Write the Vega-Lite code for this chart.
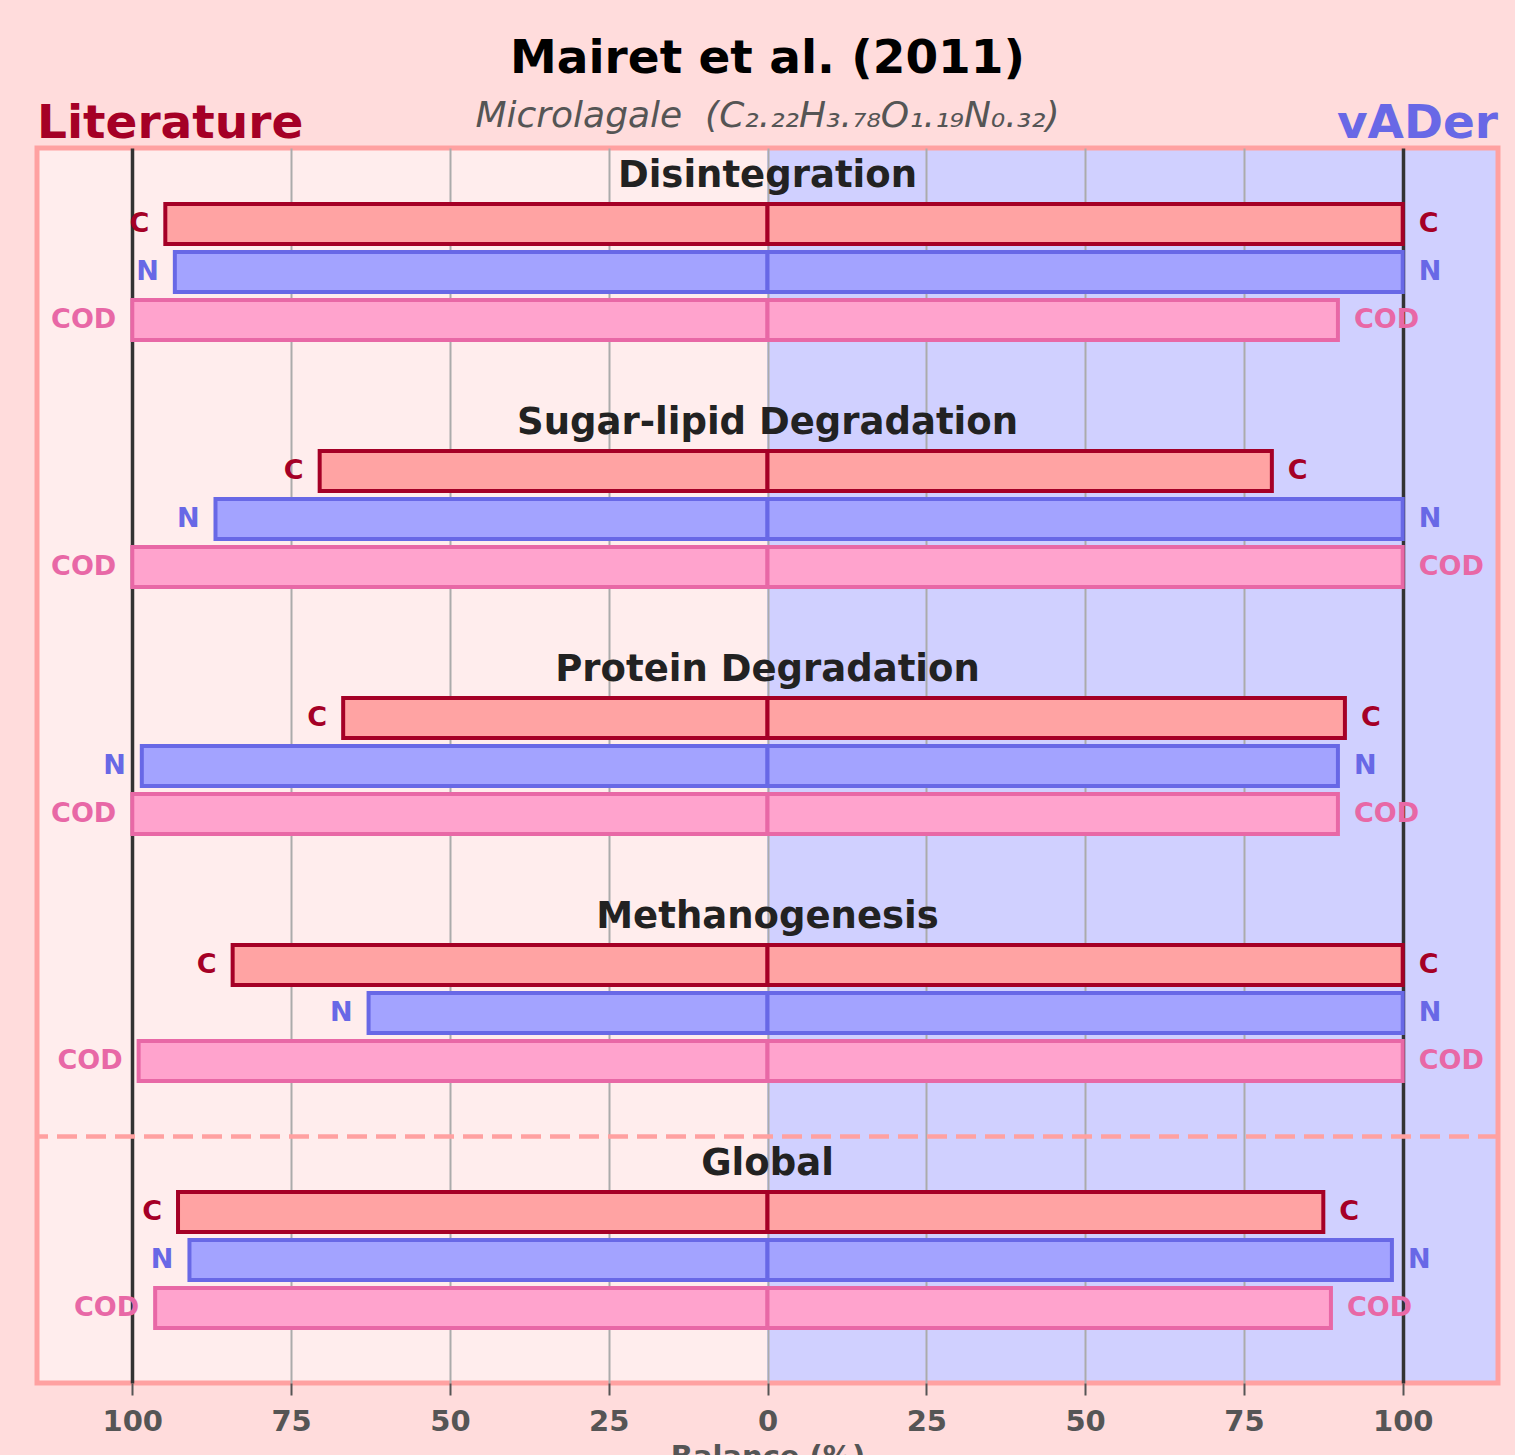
{
  "$schema": "https://vega.github.io/schema/vega-lite/v6.json",
  "width": 1461,
  "height": 1235,
  "autosize": {"type": "none"},
  "padding": {"left": 37, "top": 148, "right": 17, "bottom": 72},
  "background": "#FFDCDC",
  "title": {
    "text": "Mairet et al. (2011)",
    "subtitle": "Microlagale\u00a0\u00a0(C₂.₂₂H₃.₇₈O₁.₁₉N₀.₃₂)",
    "anchor": "middle",
    "font": "DejaVu Sans",
    "fontSize": 47,
    "fontWeight": "bold",
    "color": "#000000",
    "subtitleFont": "DejaVu Sans",
    "subtitleFontSize": 36,
    "subtitleFontStyle": "italic",
    "subtitleColor": "#555555",
    "subtitlePadding": 16,
    "offset": -35
  },
  "datasets": {
    "bars": [
      {"group": "Disintegration", "metric": "C", "side": "Literature", "balance": -94.8},
      {"group": "Disintegration", "metric": "N", "side": "Literature", "balance": -93.3},
      {"group": "Disintegration", "metric": "COD", "side": "Literature", "balance": -100},
      {"group": "Disintegration", "metric": "C", "side": "vADer", "balance": 100},
      {"group": "Disintegration", "metric": "N", "side": "vADer", "balance": 100},
      {"group": "Disintegration", "metric": "COD", "side": "vADer", "balance": 89.8},
      {"group": "Sugar-lipid Degradation", "metric": "C", "side": "Literature", "balance": -70.5},
      {"group": "Sugar-lipid Degradation", "metric": "N", "side": "Literature", "balance": -86.9},
      {"group": "Sugar-lipid Degradation", "metric": "COD", "side": "Literature", "balance": -100},
      {"group": "Sugar-lipid Degradation", "metric": "C", "side": "vADer", "balance": 79.4},
      {"group": "Sugar-lipid Degradation", "metric": "N", "side": "vADer", "balance": 100},
      {"group": "Sugar-lipid Degradation", "metric": "COD", "side": "vADer", "balance": 100},
      {"group": "Protein Degradation", "metric": "C", "side": "Literature", "balance": -66.8},
      {"group": "Protein Degradation", "metric": "N", "side": "Literature", "balance": -98.5},
      {"group": "Protein Degradation", "metric": "COD", "side": "Literature", "balance": -100},
      {"group": "Protein Degradation", "metric": "C", "side": "vADer", "balance": 90.9},
      {"group": "Protein Degradation", "metric": "N", "side": "vADer", "balance": 89.8},
      {"group": "Protein Degradation", "metric": "COD", "side": "vADer", "balance": 89.8},
      {"group": "Methanogenesis", "metric": "C", "side": "Literature", "balance": -84.2},
      {"group": "Methanogenesis", "metric": "N", "side": "Literature", "balance": -62.8},
      {"group": "Methanogenesis", "metric": "COD", "side": "Literature", "balance": -99.0},
      {"group": "Methanogenesis", "metric": "C", "side": "vADer", "balance": 100},
      {"group": "Methanogenesis", "metric": "N", "side": "vADer", "balance": 100},
      {"group": "Methanogenesis", "metric": "COD", "side": "vADer", "balance": 100},
      {"group": "Global", "metric": "C", "side": "Literature", "balance": -92.8},
      {"group": "Global", "metric": "N", "side": "Literature", "balance": -91.0},
      {"group": "Global", "metric": "COD", "side": "Literature", "balance": -96.4},
      {"group": "Global", "metric": "C", "side": "vADer", "balance": 87.5},
      {"group": "Global", "metric": "N", "side": "vADer", "balance": 98.3},
      {"group": "Global", "metric": "COD", "side": "vADer", "balance": 88.7}
    ],
    "groups": [
      {"group": "Disintegration"},
      {"group": "Sugar-lipid Degradation"},
      {"group": "Protein Degradation"},
      {"group": "Methanogenesis"},
      {"group": "Global"}
    ]
  },
  "layer": [
    {
      "data": {"name": "bars"},
      "mark": {"type": "bar", "orient": "horizontal", "strokeWidth": 4},
      "encoding": {
        "y": {
          "field": "group",
          "type": "nominal",
          "sort": null,
          "axis": null,
          "scale": {
            "domain": ["Disintegration", "Sugar-lipid Degradation", "Protein Degradation", "Methanogenesis", "Global"],
            "paddingInner": 0.2227,
            "paddingOuter": 0.1113,
            "align": 0.0727
          }
        },
        "yOffset": {
          "field": "metric",
          "type": "nominal",
          "sort": null,
          "scale": {"domain": ["title", "C", "N", "COD"], "paddingInner": 0.16667, "paddingOuter": 0.08333}
        },
        "x": {
          "field": "balance",
          "type": "quantitative",
          "title": "Balance (%)",
          "scale": {"domain": [-115, 115], "nice": false, "zero": false},
          "axis": {
            "values": [-100, -75, -50, -25, 0, 25, 50, 75, 100],
            "labelExpr": "abs(datum.value)",
            "domain": false,
            "grid": true,
            "gridColor": {"condition": {"test": "abs(datum.value) == 100", "value": "#333333"}, "value": "#ababab"},
            "gridWidth": {"condition": {"test": "abs(datum.value) == 100", "value": 3.5}, "value": 2},
            "gridOpacity": 1,
            "tickColor": "#555555",
            "tickWidth": 2,
            "tickSize": 12,
            "labelFont": "DejaVu Sans",
            "labelFontSize": 29,
            "labelFontWeight": "bold",
            "labelColor": "#555555",
            "labelPadding": 12,
            "titleFont": "DejaVu Sans",
            "titleFontSize": 29,
            "titleFontWeight": "bold",
            "titleColor": "#555555",
            "titlePadding": 6
          }
        },
        "x2": {"datum": 0},
        "fill": {
          "field": "metric",
          "type": "nominal",
          "scale": {"domain": ["C", "N", "COD"], "range": ["#FFA3A3", "#A3A3FF", "#FFA3CD"]},
          "legend": null
        },
        "stroke": {
          "field": "metric",
          "type": "nominal",
          "scale": {"domain": ["C", "N", "COD"], "range": ["#A50026", "#6868E6", "#E868A6"]},
          "legend": null
        }
      }
    },
    {
      "data": {"name": "bars"},
      "transform": [{"filter": "datum.side == 'Literature'"}],
      "mark": {"type": "text", "align": "right", "baseline": "middle", "dx": -16, "font": "DejaVu Sans", "fontSize": 27, "fontWeight": "bold"},
      "encoding": {
        "y": {"field": "group", "type": "nominal", "sort": null},
        "yOffset": {"field": "metric", "type": "nominal", "sort": null},
        "x": {"field": "balance", "type": "quantitative"},
        "text": {"field": "metric"},
        "color": {
          "field": "metric",
          "type": "nominal",
          "scale": {"domain": ["C", "N", "COD"], "range": ["#A50026", "#6868E6", "#E868A6"]},
          "legend": null
        }
      }
    },
    {
      "data": {"name": "bars"},
      "transform": [{"filter": "datum.side == 'vADer'"}],
      "mark": {"type": "text", "align": "left", "baseline": "middle", "dx": 16, "font": "DejaVu Sans", "fontSize": 27, "fontWeight": "bold"},
      "encoding": {
        "y": {"field": "group", "type": "nominal", "sort": null},
        "yOffset": {"field": "metric", "type": "nominal", "sort": null},
        "x": {"field": "balance", "type": "quantitative"},
        "text": {"field": "metric"},
        "color": {"field": "metric", "type": "nominal", "legend": null}
      }
    },
    {
      "data": {"name": "groups"},
      "mark": {"type": "text", "align": "center", "baseline": "middle", "font": "DejaVu Sans", "fontSize": 37, "fontWeight": "bold", "color": "#222222"},
      "encoding": {
        "y": {"field": "group", "type": "nominal", "sort": null},
        "yOffset": {"datum": "title", "type": "nominal"},
        "x": {"datum": 0, "type": "quantitative"},
        "text": {"field": "group"}
      }
    },
    {
      "data": {"values": [{}]},
      "mark": {"type": "rule", "color": "#FFA1A1", "strokeWidth": 4.5, "strokeDash": [20, 9], "yOffset": -3.5},
      "encoding": {
        "y": {"datum": "Global", "type": "nominal", "bandPosition": 0}
      }
    },
    {
      "data": {"values": [{"name": "Literature"}]},
      "mark": {"type": "text", "align": "left", "baseline": "alphabetic", "dy": -38, "font": "DejaVu Sans", "fontSize": 47, "fontWeight": "bold", "color": "#A50026"},
      "encoding": {
        "y": {"datum": "Disintegration", "type": "nominal"},
        "yOffset": {"datum": "title", "type": "nominal"},
        "x": {"datum": -115, "type": "quantitative"},
        "text": {"field": "name"}
      }
    },
    {
      "data": {"values": [{"name": "vADer"}]},
      "mark": {"type": "text", "align": "right", "baseline": "alphabetic", "dy": -38, "font": "DejaVu Sans", "fontSize": 47, "fontWeight": "bold", "color": "#6868E6"},
      "encoding": {
        "y": {"datum": "Disintegration", "type": "nominal"},
        "yOffset": {"datum": "title", "type": "nominal"},
        "x": {"datum": 115, "type": "quantitative"},
        "text": {"field": "name"}
      }
    }
  ],
  "config": {
    "font": "DejaVu Sans",
    "view": {
      "fill": {
        "gradient": "linear",
        "x1": 0, "y1": 0, "x2": 1, "y2": 0,
        "stops": [
          {"offset": 0, "color": "#FFEDED"},
          {"offset": 0.5, "color": "#FFEDED"},
          {"offset": 0.5, "color": "#D0D0FF"},
          {"offset": 1, "color": "#D0D0FF"}
        ]
      },
      "stroke": "#FFA1A1",
      "strokeWidth": 5
    }
  }
}
